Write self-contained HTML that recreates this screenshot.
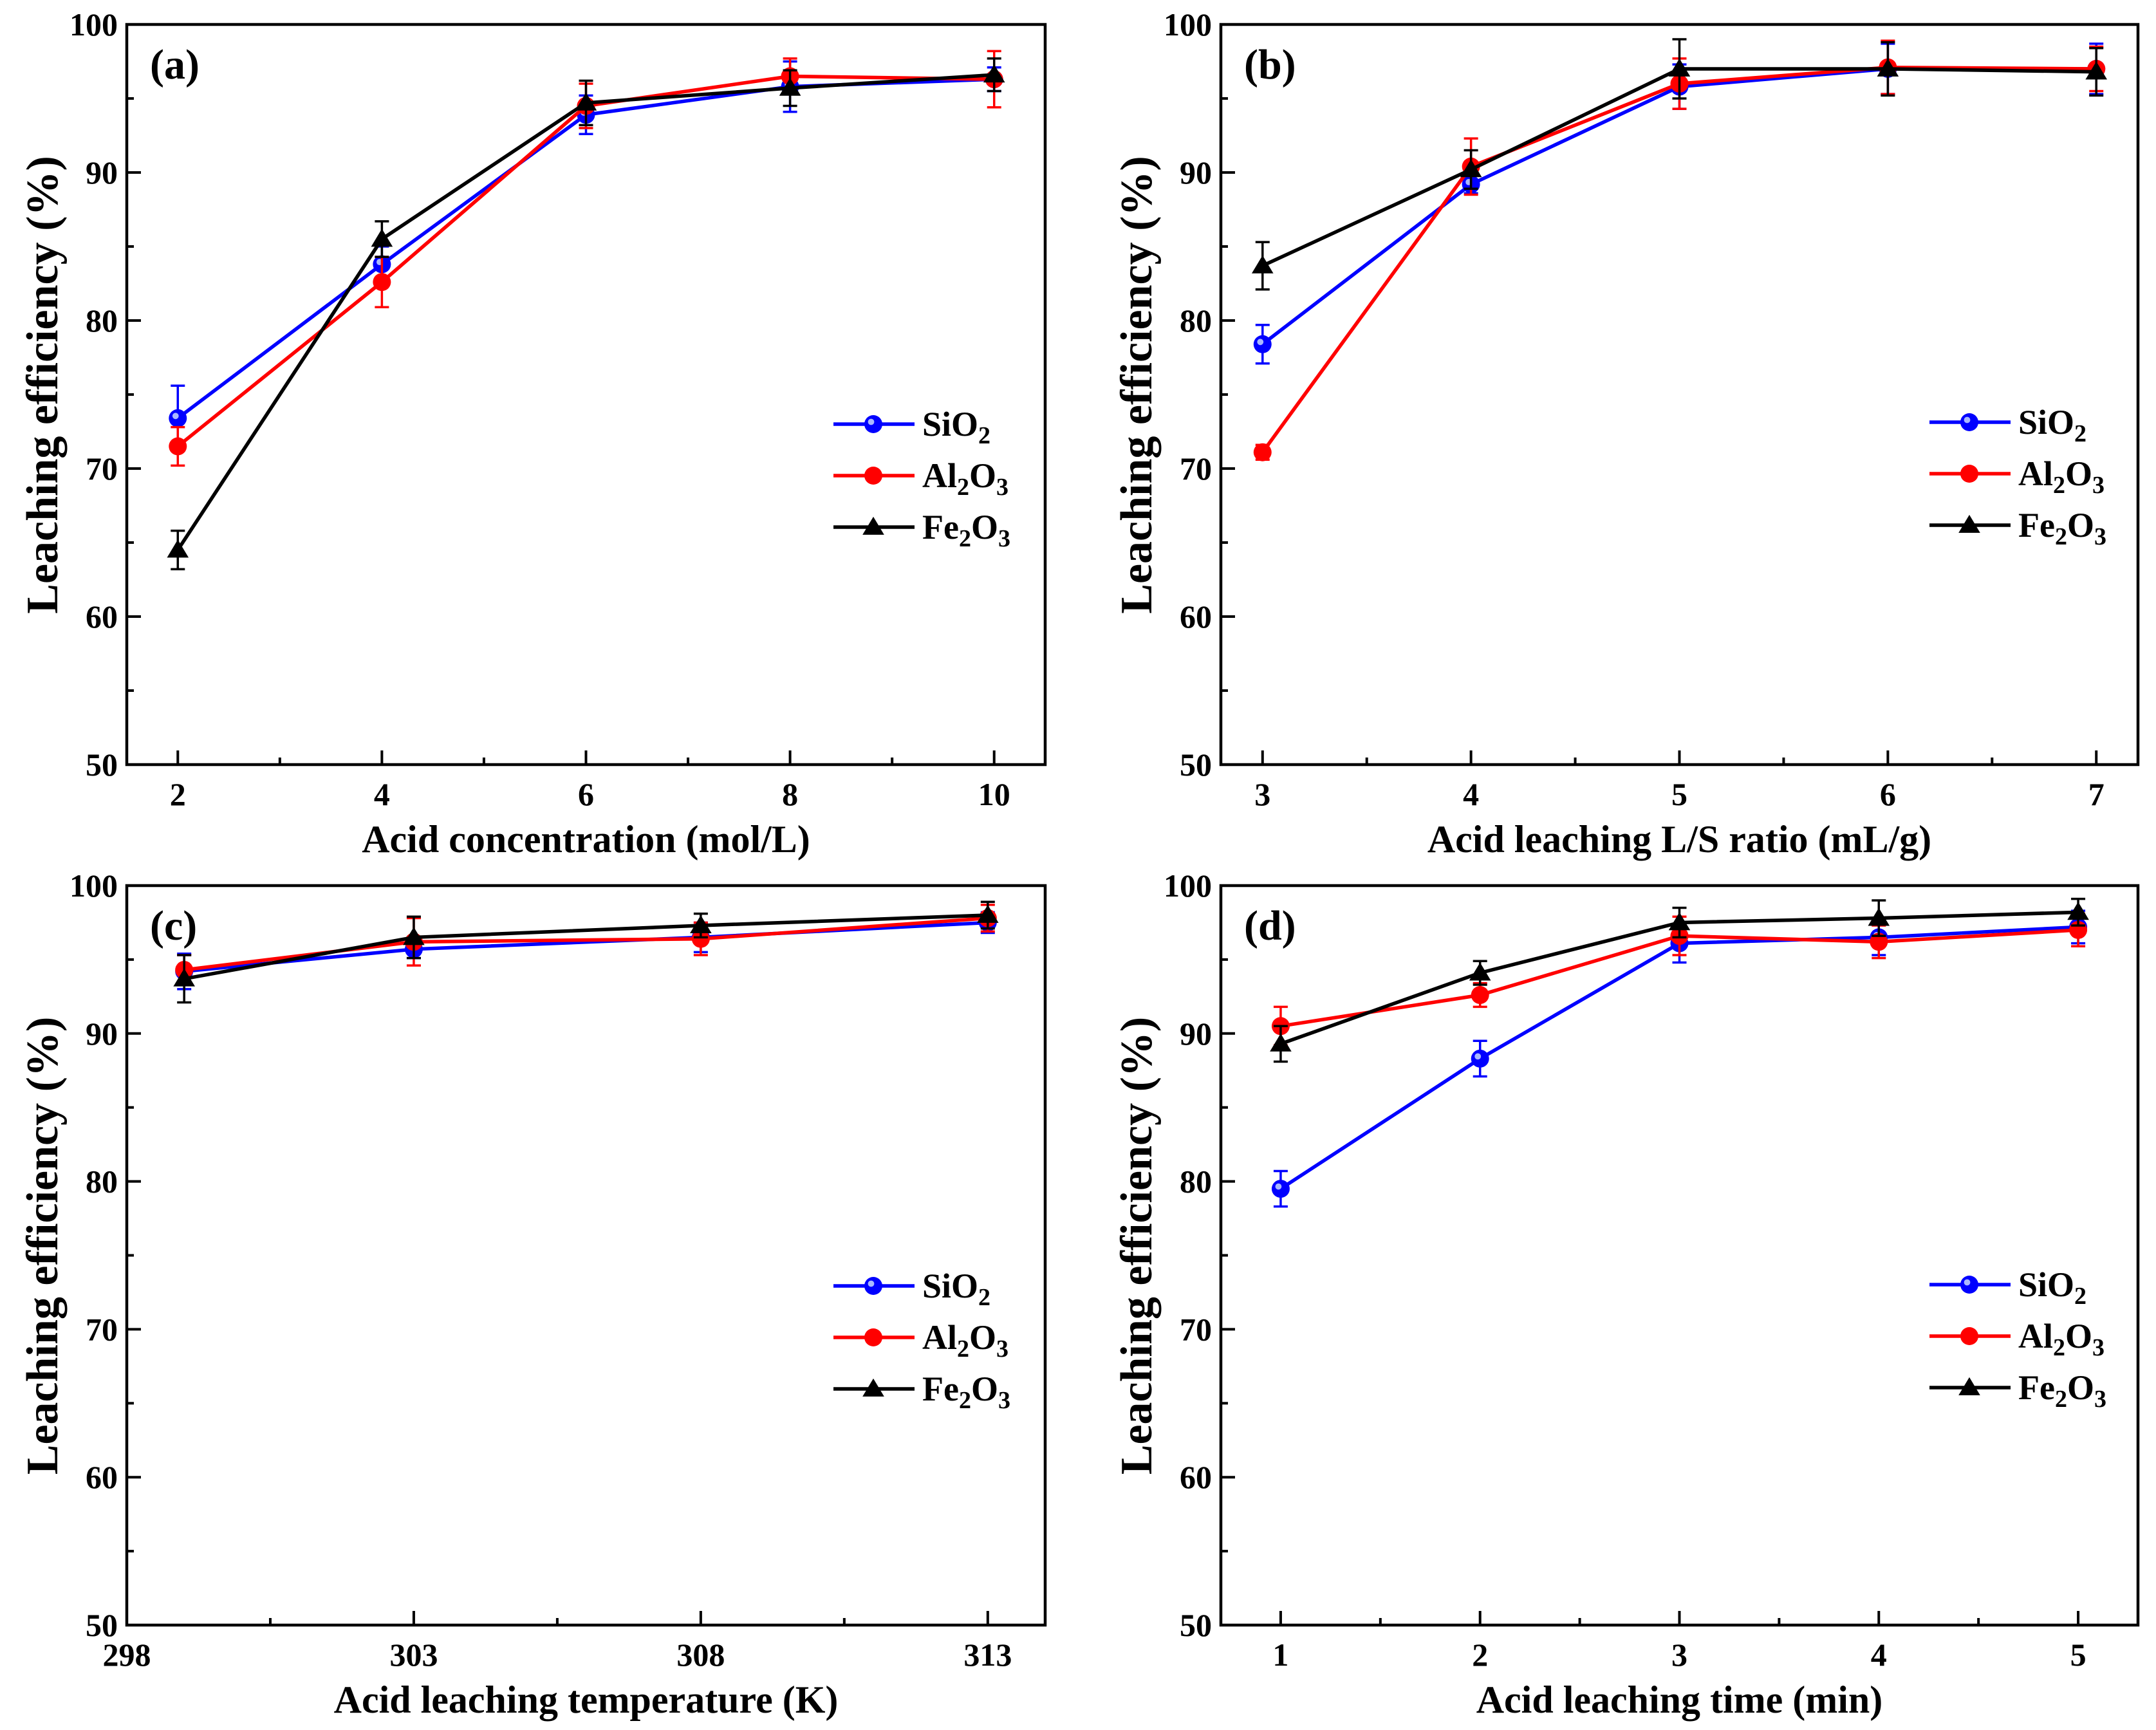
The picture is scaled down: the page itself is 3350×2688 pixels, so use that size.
<!DOCTYPE html>
<html><head><meta charset="utf-8"><style>
html,body{margin:0;padding:0;background:#fff}
svg{display:block;font-family:"Liberation Serif",serif;font-weight:bold}
</style></head><body>
<svg id="fig" width="3350" height="2688" viewBox="0 0 3350 2688" xmlns="http://www.w3.org/2000/svg"></svg>
<script>
// ---- data ----
const xA = [2, 4, 6, 8, 10];
const siA = [73.4, 83.8, 93.9, 95.8, 96.3];
const alA = [71.5, 82.6, 94.5, 96.5, 96.3];
const feA = [64.5, 85.5, 94.7, 95.7, 96.6];
const siAe = [2.2, 1.2, 1.3, 1.7, 0.8];
const alAe = [1.3, 1.7, 1.5, 1.2, 1.9];
const feAe = [1.3, 1.2, 1.5, 1.2, 1.1];

const xB = [3, 4, 5, 6, 7];
const siB = [78.4, 89.2, 95.8, 97.0, 97.0];
const alB = [71.1, 90.4, 96.0, 97.1, 97.0];
const feB = [83.7, 90.2, 97.0, 97.0, 96.8];
const siBe = [1.3, 0.6, 1.5, 1.7, 1.7];
const alBe = [0.5, 1.9, 1.7, 1.8, 1.5];
const feBe = [1.6, 1.3, 2.0, 1.8, 1.6];

const xC = [299, 303, 308, 313];
const siC = [94.2, 95.7, 96.5, 97.5];
const alC = [94.3, 96.2, 96.4, 97.8];
const feC = [93.7, 96.5, 97.3, 98.0];
const siCe = [1.2, 0.6, 1.0, 0.7];
const alCe = [1.0, 1.6, 1.1, 0.9];
const feCe = [1.6, 1.4, 0.8, 0.9];

const xD = [1, 2, 3, 4, 5];
const siD = [79.5, 88.3, 96.1, 96.5, 97.2];
const alD = [90.5, 92.6, 96.6, 96.2, 97.0];
const feD = [89.3, 94.1, 97.5, 97.8, 98.2];
const siDe = [1.2, 1.2, 1.3, 1.2, 1.1];
const alDe = [1.3, 0.8, 1.3, 1.1, 1.1];
const feDe = [1.2, 0.8, 1.0, 1.2, 0.9];

const yTicks = [50, 60, 70, 80, 90, 100];
const xTicksA = [2, 4, 6, 8, 10];
const xTicksB = [3, 4, 5, 6, 7];
const xTicksC = [298, 303, 308, 313];
const xTicksD = [1, 2, 3, 4, 5];

const NS = "http://www.w3.org/2000/svg";
const svg = document.getElementById('fig');
function mk(tag, attrs, parent) {
  const e = document.createElementNS(NS, tag);
  for (const k in attrs) e.setAttribute(k, attrs[k]);
  (parent || svg).appendChild(e);
  return e;
}

const panels = [
  {id:'a', L:197, R:1624, T:38, B:1188, xmin:1.5, xmax:10.5, xt:xTicksA, minorStep:1, x:xA, s:[siA,alA,feA], e:[siAe,alAe,feAe], xlabel:'Acid concentration (mol/L)', legY:659, legX:1295},
  {id:'b', L:1897, R:3322, T:38, B:1188, xmin:2.8, xmax:7.2, xt:xTicksB, minorStep:0.5, x:xB, s:[siB,alB,feB], e:[siBe,alBe,feBe], xlabel:'Acid leaching L/S ratio (mL/g)', legY:656, legX:2998},
  {id:'c', L:197, R:1624, T:1376, B:2525, xmin:298, xmax:314, xt:xTicksC, minorStep:2.5, x:xC, s:[siC,alC,feC], e:[siCe,alCe,feCe], xlabel:'Acid leaching temperature (K)', legY:1998, legX:1295},
  {id:'d', L:1897, R:3322, T:1376, B:2525, xmin:0.7, xmax:5.3, xt:xTicksD, minorStep:0.5, x:xD, s:[siD,alD,feD], e:[siDe,alDe,feDe], xlabel:'Acid leaching time (min)', legY:1996, legX:2998}
];
const colors = ['#0000ff', '#ff0000', '#000000'];
const serKeys = ['sio2', 'al2o3', 'fe2o3'];

function marker(g, k, cx, cy, r) {
  if (k === 2) {
    const m = mk('polygon', {points:`${cx},${cy-r*1.15} ${cx-r*1.2},${cy+r*0.85} ${cx+r*1.2},${cy+r*0.85}`, fill:'#000'}, g);
    
    
  } else {
    const m = mk('circle', {cx:cx, cy:cy, r:r, fill:colors[k]}, g);
    
    
    if (k === 0) mk('circle', {cx:cx-r*0.25, cy:cy-r*0.25, r:r*0.35, fill:'#aab8ff'}, g);
  }
}

panels.forEach(p => {
  const g = mk('g', {});
  
  
  const sx = v => p.L + (v - p.xmin) / (p.xmax - p.xmin) * (p.R - p.L);
  const sy = v => p.B - (v - 50) / 50 * (p.B - p.T);
  yTicks.forEach((t, i) => {
    const y = sy(t);
    mk('line', {x1:p.L, x2:p.L+22, y1:y, y2:y, stroke:'#000', 'stroke-width':4}, g);
    if (i < yTicks.length - 1) { const ym = sy(t+5); mk('line', {x1:p.L, x2:p.L+11, y1:ym, y2:ym, stroke:'#000', 'stroke-width':4}, g); }
    const tl = mk('text', {x:p.L-14, y:y+17, 'text-anchor':'end', 'font-size':50}, g);
    tl.textContent = t;
    
    
  });
  p.xt.forEach((t, i) => {
    const x = sx(t);
    mk('line', {x1:x, x2:x, y1:p.B, y2:p.B-22, stroke:'#000', 'stroke-width':4}, g);
    const tl = mk('text', {x:x, y:p.B+63, 'text-anchor':'middle', 'font-size':50}, g);
    tl.textContent = t;
    
    
  });
  for (let v = p.xt[0] + p.minorStep; v < p.xt[p.xt.length-1]; v += p.minorStep) {
    if (p.xt.some(t => Math.abs(t - v) < 1e-6)) continue;
    const x = sx(v);
    mk('line', {x1:x, x2:x, y1:p.B, y2:p.B-11, stroke:'#000', 'stroke-width':4}, g);
  }
  const fr = mk('rect', {x:p.L, y:p.T, width:p.R-p.L, height:p.B-p.T, fill:'none', stroke:'#000', 'stroke-width':4.5}, g);
  
  
  const xt = mk('text', {x:(p.L+p.R)/2, y:p.B+136, 'text-anchor':'middle', 'font-size':60}, g);
  xt.textContent = p.xlabel;
  
  
  const yx = p.L - 108, yy = (p.T + p.B) / 2 - 15;
  const yt = mk('text', {x:yx, y:yy, 'text-anchor':'middle', 'font-size':70, transform:`rotate(-90 ${yx} ${yy})`}, g);
  yt.textContent = 'Leaching efficiency (%)';
  
  
  const pl = mk('text', {x:p.L+36, y:p.T+84, 'font-size':66}, g);
  pl.textContent = '(' + p.id + ')';
  
  
  p.s.forEach((vals, k) => {
    const sg = mk('g', {}, g);
    
    
    vals.forEach((v, i) => {
      const x = sx(p.x[i]), e = p.e[k][i];
      mk('line', {x1:x, x2:x, y1:sy(v-e), y2:sy(v+e), stroke:colors[k], 'stroke-width':3.5}, sg);
      mk('line', {x1:x-11, x2:x+11, y1:sy(v-e), y2:sy(v-e), stroke:colors[k], 'stroke-width':3.5}, sg);
      mk('line', {x1:x-11, x2:x+11, y1:sy(v+e), y2:sy(v+e), stroke:colors[k], 'stroke-width':3.5}, sg);
    });
    const pts = vals.map((v, i) => sx(p.x[i]) + ',' + sy(v)).join(' ');
    const ln = mk('polyline', {points:pts, fill:'none', stroke:colors[k], 'stroke-width':5.5}, sg);
    
    
    vals.forEach((v, i) => marker(sg, k, sx(p.x[i]), sy(v), 14));
  });
  const lg = mk('g', {}, g);
  
  
  for (let k = 0; k < 3; k++) {
    const y = p.legY + k * 80;
    const eg = mk('g', {}, lg);
    
    
    mk('line', {x1:p.legX, x2:p.legX+126, y1:y, y2:y, stroke:colors[k], 'stroke-width':5.5}, eg);
    marker(eg, k, p.legX+62, y, 14);
    const t = mk('text', {x:p.legX+138, y:y+18, 'font-size':54}, eg);
    if (k === 0) t.innerHTML = 'SiO<tspan font-size="38" dy="12">2</tspan>';
    if (k === 1) t.innerHTML = 'Al<tspan font-size="38" dy="12">2</tspan><tspan dy="-12">O</tspan><tspan font-size="38" dy="12">3</tspan>';
    if (k === 2) t.innerHTML = 'Fe<tspan font-size="38" dy="12">2</tspan><tspan dy="-12">O</tspan><tspan font-size="38" dy="12">3</tspan>';
  }
});
</script>
</body></html>
